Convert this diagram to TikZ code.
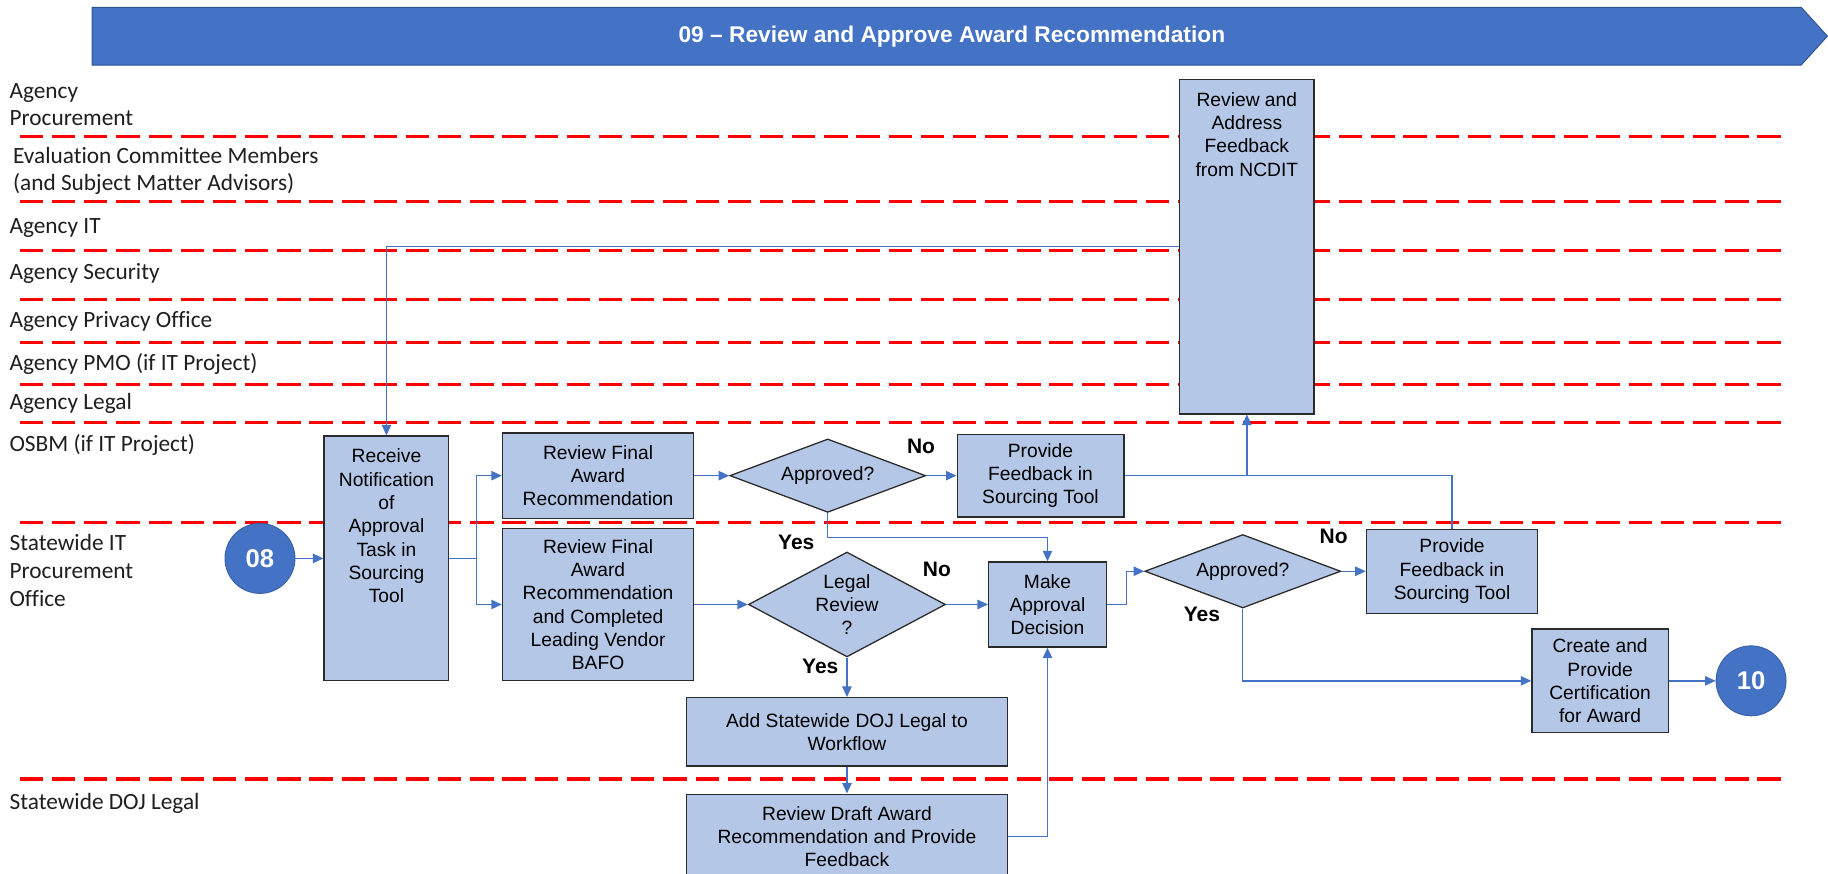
\documentclass[tikz,border=0pt]{standalone}
\usepackage{fontspec}
\setmainfont{Liberation Sans}
\newfontfamily\lanefont[Ligatures={NoCommon}]{Carlito}
\usetikzlibrary{shapes.geometric,arrows.meta,calc}
\definecolor{boxfill}{HTML}{B4C7E7}
\definecolor{boxline}{HTML}{2B2B2B}
\definecolor{flow}{HTML}{4472C4}
\definecolor{bannerblue}{HTML}{4472C4}
\definecolor{bannerline}{HTML}{2F528F}
\definecolor{lanered}{HTML}{FF0000}
\begin{document}
\begin{tikzpicture}[x=1pt,y=-1pt,
  lane/.style={draw=lanered, line width=2.6pt, dash pattern=on 20pt off 7.6pt},
  lanelabel/.style={font=\lanefont\fontsize{20}{23}\selectfont, inner sep=0pt, align=left, anchor=north west, text=black!88},
  box/.style={draw=boxline, fill=boxfill, line width=1.1pt, inner sep=0pt, align=center, font=\fontsize{16.5}{20}\selectfont},
  dec/.style={box, diamond},
  tag/.style={font=\bfseries\fontsize{18}{20}\selectfont, inner sep=0pt},
  conn/.style={draw=flow, line width=1.2pt, -{Triangle[length=9pt,width=8pt]}},
  plain/.style={draw=flow, line width=1.2pt},
  term/.style={circle, fill=flow, draw=flow!85!black, line width=0.8pt, minimum size=60pt, inner sep=0pt, text=white, font=\bfseries\fontsize{22}{24}\selectfont}
]
\useasboundingbox (0,0) rectangle (1568,749);
\fill[white] (0,0) rectangle (1568,749);

% banner
\draw[fill=bannerblue, draw=bannerline, line width=0.8pt] (79,6.3) -- (1545,6.3) -- (1567.5,31) -- (1545,55.8) -- (79,55.8) -- cycle;
\node[text=white, font=\bfseries\fontsize{19.5}{22}\selectfont] (title) at (816.5,31) {09 – Review and Approve Award Recommendation};

% lane separators
\foreach \yy in {117.2,173,214.5,257.3,294,329.4,362.6,448,668.2}
  \draw[lane] (17,\yy) -- (1530,\yy);

% lane labels
\node[lanelabel] (l1) at (8,68.2) {Agency\strut\\Procurement\strut};
\node[lanelabel] (l2) at (11,124) {Evaluation Committee Members\strut\\(and Subject Matter Advisors)\strut};
\node[lanelabel] (l3) at (8,184) {Agency IT\strut};
\node[lanelabel] (l4) at (8,223.5) {Agency Security\strut};
\node[lanelabel] (l5) at (8,264.9) {Agency Privacy Office\strut};
\node[lanelabel] (l6) at (8,301.3) {Agency PMO (if IT Project)\strut};
\node[lanelabel] (l7) at (8,335) {Agency Legal\strut};
\node[lanelabel] (l8) at (8,371.3) {OSBM (if IT Project)\strut};
\node[lanelabel] (l9) at (8,456.3) {Statewide IT\strut\\[1pt]Procurement\strut\\[1pt]Office\strut};
\node[lanelabel] (l10) at (8,677.7) {Statewide DOJ Legal\strut};

% nodes
\node[term] (c08) at (223,479) {08};
\node[box, minimum width=107pt, minimum height=210pt] (recv) at (331.5,479)
  {\parbox[c][210pt][t]{105pt}{\centering\rule{0pt}{23pt}Receive\\Notification\\of\\Approval\\Task in\\Sourcing\\Tool}};
\node[box, minimum width=164pt, minimum height=73pt] (rfa) at (513,408) {Review Final\\Award\\Recommendation};
\node[box, minimum width=164pt, minimum height=130pt] (rfb) at (513,518.5) {Review Final\\Award\\Recommendation\\and Completed\\Leading Vendor\\BAFO};
\node[dec, aspect=2.67, minimum width=168pt, minimum height=63pt] (ap1) at (710,408) {Approved?};
\node[box, minimum width=143pt, minimum height=71pt] (pf1) at (892.5,408) {Provide\\Feedback in\\Sourcing Tool};
\node[dec, aspect=1.88, minimum width=169pt, minimum height=90pt] (legal) at (726.5,518.5) {Legal\\Review\\?};
\node[box, minimum width=101pt, minimum height=73pt] (mad) at (898.5,518.5) {Make\\Approval\\Decision};
\node[box, minimum width=275.5pt, minimum height=58.6pt] (add) at (726.5,627.7) {Add Statewide DOJ Legal to\\Workflow};
\node[box, minimum width=275.5pt, minimum height=73pt] (rda) at (726.5,717.7) {Review Draft Award\\Recommendation and Provide\\Feedback};
\node[dec, aspect=2.67, minimum width=168pt, minimum height=63pt] (ap2) at (1066,490) {Approved?};
\node[box, minimum width=147pt, minimum height=72pt] (pf2) at (1245.5,490) {Provide\\Feedback in\\Sourcing Tool};
\node[box, minimum width=117pt, minimum height=89pt] (cert) at (1372.5,584) {Create and\\Provide\\Certification\\for Award};
\node[term] (c10) at (1502,584) {10};
\node[box, minimum width=115pt, minimum height=287pt] (ncdit) at (1069.5,211.5)
  {\parbox[c][287pt][t]{113pt}{\centering\rule{0pt}{23pt}Review and\\Address\\Feedback\\from NCDIT}};

% labels
\node[tag] (no1) at (790,383) {No};
\node[tag] (yes1) at (683,465) {Yes};
\node[tag] (no2) at (803.7,488.4) {No};
\node[tag] (yes2) at (703.6,572) {Yes};
\node[tag] (no3) at (1144,460) {No};
\node[tag] (yes3) at (1031,527) {Yes};

% connectors
\coordinate (split) at ($(recv.east)+(23,0)$);
\draw[conn] (c08.east) -- (recv.west);
\draw[plain] (recv.east) -- (split);
\draw[conn] (split) |- (rfa.west);
\draw[conn] (split) |- (rfb.west);
\draw[conn] (ncdit.west) -| (recv.north);
\draw[conn] (rfa.east) -- (ap1.west);
\draw[conn] (ap1.east) -- (pf1.west);
\draw[conn] (ap1.south) -- ++(0,21) -| (mad.north);
\draw[conn] (rfb.east) -- (legal.west);
\draw[conn] (legal.east) -- (mad.west);
\draw[conn] (legal.south) -- (add.north);
\draw[conn] (add.south) -- (rda.north);
\draw[conn] (rda.east) -| (mad.south);
\draw[conn] (mad.east) -- ++(16.5,0) |- (ap2.west);
\draw[conn] (ap2.east) -- (pf2.west);
\draw[conn] (ap2.south) |- (cert.west);
\draw[conn] (cert.east) -- (c10.west);
\draw[conn] (pf1.east) -| (ncdit.south);
\draw[plain] (pf2.north) |- (ncdit.south |- pf1.east);
\end{tikzpicture}
\end{document}
